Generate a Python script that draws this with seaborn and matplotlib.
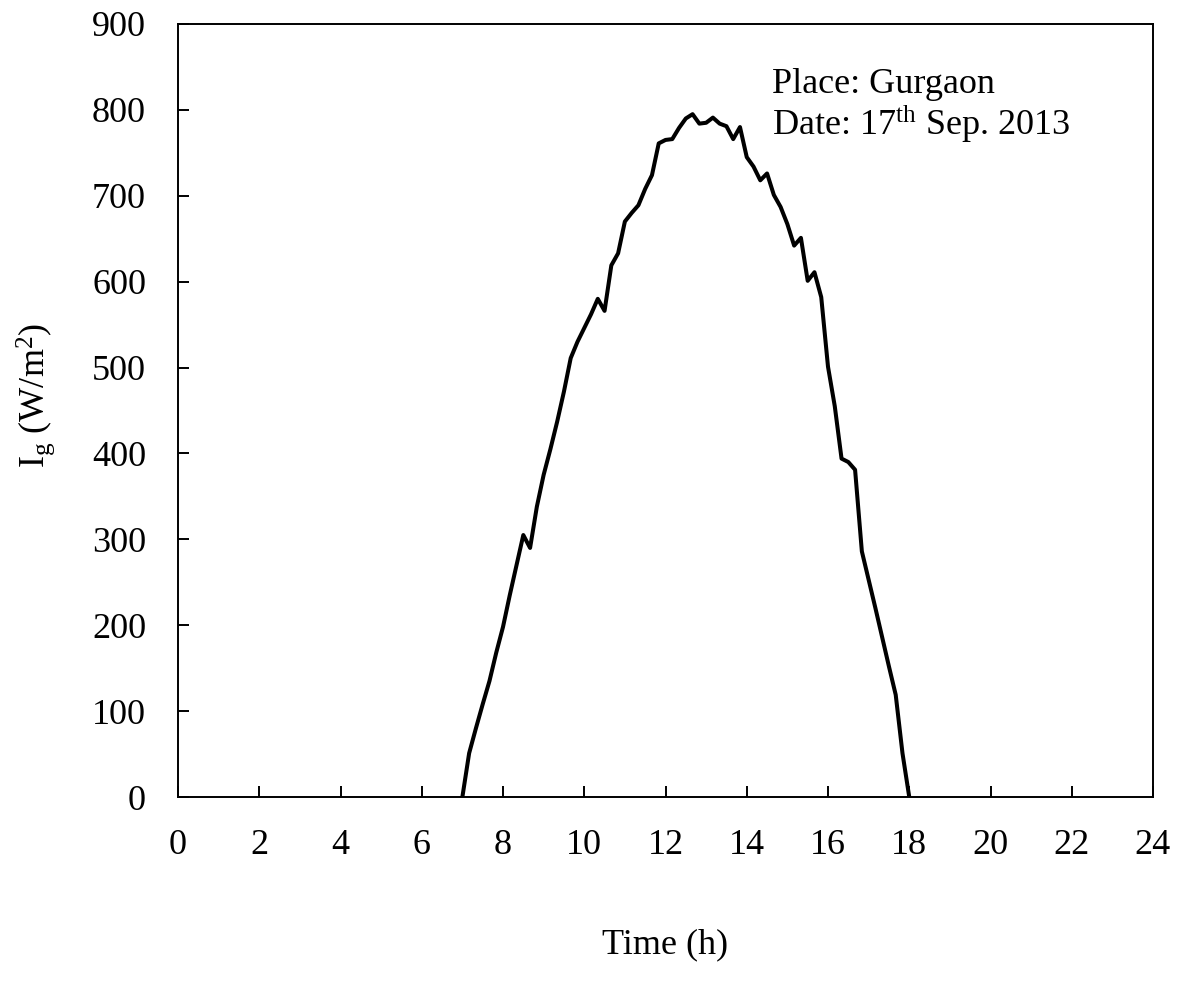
import numpy as np
import pandas as pd
import matplotlib
matplotlib.use("Agg")
import matplotlib.pyplot as plt
import seaborn as sns

# Time in hours (10-minute readings from 7:00 to 18:00)
time_h = [7 + k / 6 for k in range(67)]
# Global irradiance (W/m^2)
irradiance = [
    0, 51, 80, 108, 135, 168, 198, 235, 270, 305,
    290, 338, 375, 405, 437, 472, 511, 530, 546, 562,
    580, 566, 619, 633, 670, 680, 689, 708, 724, 761,
    765, 766, 779, 790, 795, 784, 785, 791, 784, 781,
    766, 780, 745, 734, 718, 726, 701, 687, 667, 642,
    651, 601, 611, 582, 501, 455, 394, 390, 381, 286,
    253, 220, 186, 152, 119, 51, 0,
]
x_ticks = list(range(0, 25, 2))
y_ticks = list(range(0, 901, 100))

df = pd.DataFrame({"Time (h)": time_h, "Ig": irradiance})

sns.set_theme(style="white")
plt.rcParams["font.family"] = ["Liberation Serif", "DejaVu Serif"]
plt.rcParams["mathtext.fontset"] = "custom"
plt.rcParams["mathtext.rm"] = "Liberation Serif"
plt.rcParams["mathtext.it"] = "Liberation Serif:italic"
plt.rcParams["text.color"] = "black"
plt.rcParams["axes.labelcolor"] = "black"

FS = 26

fig = plt.figure(figsize=(11.77, 9.86), dpi=100)
ax = fig.add_axes([178 / 1177, 1 - 797 / 986, (1153 - 178) / 1177, (797 - 24) / 986])

sns.lineplot(data=df, x="Time (h)", y="Ig", ax=ax, color="black", linewidth=2.9)

ax.set_xlim(0, 24)
ax.set_ylim(0, 900)
ax.set_xticks(x_ticks)
ax.set_yticks(y_ticks)
ax.tick_params(direction="in", length=8, width=1.4, labelsize=FS, colors="black",
               top=False, right=False, bottom=True, left=True)
ax.tick_params(axis="x", pad=23)
ax.tick_params(axis="y", pad=23)
for s in ax.spines.values():
    s.set_visible(True)
    s.set_color("black")
    s.set_linewidth(1.4)

ax.set_xlabel("")
ax.set_ylabel("")
fig.text(665 / 1177, 1 - 945 / 986, "Time (h)", ha="center", va="center", fontsize=FS, color="black")
fig.text(36 / 1177, 1 - 395 / 986, r"I$_\mathrm{g}$ (W/m$^\mathrm{2}$)", ha="center", va="center",
         rotation=90, fontsize=FS, color="black")

fig.text(772 / 1177, 1 - 93 / 986, "Place: Gurgaon",
         ha="left", va="baseline", fontsize=FS, color="black")
fig.text(772 / 1177, 1 - 135 / 986, r"Date: 17$^\mathrm{th}$ Sep. 2013",
         ha="left", va="baseline", fontsize=FS, color="black")

fig.savefig("out.png", dpi=100, facecolor="white")
